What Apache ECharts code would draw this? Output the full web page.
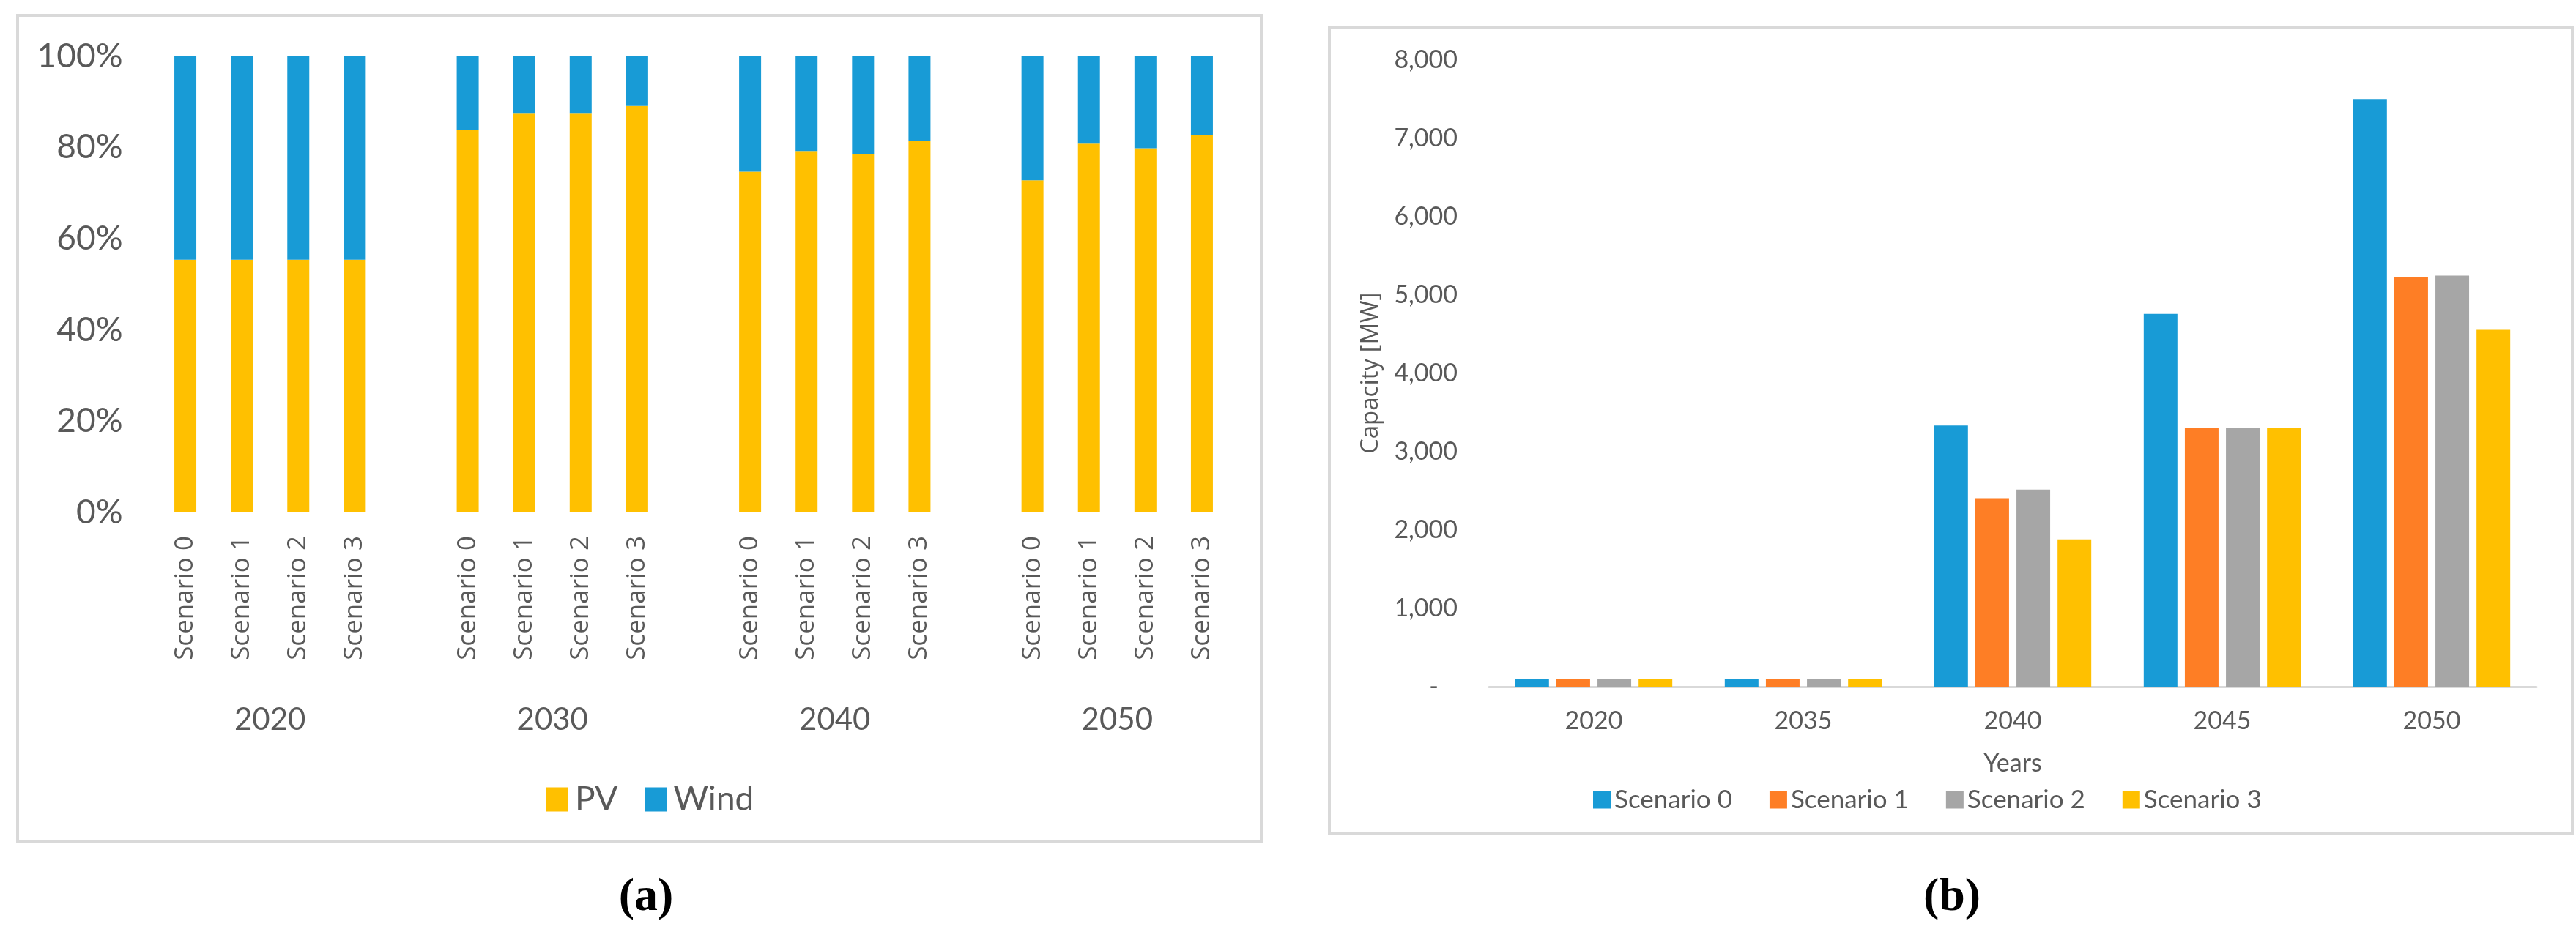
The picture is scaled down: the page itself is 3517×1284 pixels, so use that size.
<!DOCTYPE html>
<html>
<head>
<meta charset="utf-8">
<title>PV / Wind shares and capacity</title>
<script src="https://cdn.jsdelivr.net/npm/echarts@6/dist/echarts.min.js"></script>
<style>
  html, body { margin: 0; padding: 0; background: #fff; }
  #main { width: 3517px; height: 1284px; }
</style>
</head>
<body>
<div id="main"></div>
<script>
// ---- panel (a): share of PV / Wind per scenario ----
var years = ['2020', '2030', '2040', '2050'];
var scenarios = ['Scenario 0', 'Scenario 1', 'Scenario 2', 'Scenario 3'];
var pvShare = [55.4, 55.4, 55.4, 55.4, 83.9, 87.4, 87.4, 89.1, 74.7, 79.2, 78.6, 81.5, 72.8, 80.8, 79.8, 82.7];
var windShare = [44.6, 44.6, 44.6, 44.6, 16.1, 12.6, 12.6, 10.9, 25.3, 20.8, 21.4, 18.5, 27.2, 19.2, 20.2, 17.3];
var shareTicks = [0, 20, 40, 60, 80, 100];

// ---- panel (b): installed capacity [MW] ----
var capYears = ['2020', '2035', '2040', '2045', '2050'];
var cap0 = [100, 100, 3333, 4758, 7500];
var cap1 = [100, 100, 2405, 3305, 5230];
var cap2 = [100, 100, 2515, 3305, 5245];
var cap3 = [100, 100, 1880, 3305, 4555];

var grey = '#595959';
var colPV = '#FFC000', colWind = '#189BD6';
var scenColors = ['#189BD6', '#FE7E25', '#A6A6A6', '#FFC000'];

// category slots for (a): four scenarios per year, one empty slot between years
var slotCats = [], pvData = [], windData = [];
years.forEach(function (y, g) {
    scenarios.forEach(function (s, k) {
        slotCats.push(y + '|' + s);
        pvData.push(pvShare[g * 4 + k]);
        windData.push(windShare[g * 4 + k]);
    });
    if (g < years.length - 1) {
        slotCats.push('gap' + g);
        pvData.push('-');
        windData.push('-');
    }
});
// year labels sit under the middle of each group (boundaryGap false axis, 20 points)
var yearTicks = [];
for (var i = 0; i <= slotCats.length; i++) {
    yearTicks.push((i - 2) % 5 === 0 ? years[(i - 2) / 5] : '');
}

var myChart = echarts.init(document.getElementById('main'));
var option = {
    backgroundColor: '#fff',
    animation: false,
    textStyle: { fontFamily: 'Lato', color: grey },
    graphic: [
        { type: 'rect', shape: { x: 24, y: 21, width: 1698, height: 1129 },
          style: { fill: null, stroke: '#D9D9D9', lineWidth: 4 } },
        { type: 'rect', shape: { x: 1815, y: 37, width: 1697, height: 1101 },
          style: { fill: null, stroke: '#D9D9D9', lineWidth: 4 } },
        { type: 'text', x: 882, y: 1226,
          style: { text: '(a)', font: 'bold 64px "Liberation Serif"', fill: '#000', align: 'center', verticalAlign: 'middle' } },
        { type: 'text', x: 2665, y: 1226,
          style: { text: '(b)', font: 'bold 64px "Liberation Serif"', fill: '#000', align: 'center', verticalAlign: 'middle' } }
    ],
    legend: [
        {
            data: ['PV', 'Wind'],
            left: 746, top: 1069,
            icon: 'rect', itemWidth: 30, itemHeight: 33, itemGap: 37, padding: 0,
            textStyle: { fontSize: 46, color: grey, fontFamily: 'Lato', padding: [0, 0, 0, 4] }
        },
        {
            data: scenarios,
            left: 2175, top: 1075,
            icon: 'rect', itemWidth: 24, itemHeight: 24, itemGap: 51, padding: 0,
            textStyle: { fontSize: 35, color: grey, fontFamily: 'Lato' }
        }
    ],
    grid: [
        { left: 214.5, width: 1465, top: 76.7, height: 623.3 },
        { left: 2033, right: 54, top: 81.7, bottom: 346 }
    ],
    xAxis: [
        {
            type: 'category', gridIndex: 0, data: slotCats,
            axisLine: { show: false }, axisTick: { show: false },
            axisLabel: {
                interval: 0, rotate: 90, margin: 32, fontSize: 35, color: grey, fontFamily: 'Open Sans',
                formatter: function (v) { return v.indexOf('|') > 0 ? v.split('|')[1] : ''; }
            }
        },
        {
            type: 'category', gridIndex: 0, data: yearTicks, boundaryGap: false, position: 'bottom',
            axisLine: { show: false }, axisTick: { show: false },
            axisLabel: {
                interval: 0, margin: 262, fontSize: 42, color: grey,
                formatter: function (v, idx) { return yearTicks[idx]; }
            }
        },
        {
            type: 'category', gridIndex: 1, data: capYears,
            name: 'Years', nameLocation: 'middle', nameGap: 88,
            nameTextStyle: { fontSize: 34, color: grey },
            axisLine: { lineStyle: { color: '#D9D9D9', width: 3 } },
            axisTick: { show: false },
            axisLabel: { margin: 30, fontSize: 34, color: grey }
        }
    ],
    yAxis: [
        {
            type: 'value', gridIndex: 0, min: shareTicks[0], max: shareTicks[shareTicks.length - 1], interval: 20,
            splitLine: { show: false }, axisLine: { show: false }, axisTick: { show: false },
            axisLabel: { margin: 47, fontSize: 46, color: grey, formatter: '{value}%' }
        },
        {
            type: 'value', gridIndex: 1, min: 0, max: 8000, interval: 1000,
            name: 'Capacity [MW]', nameLocation: 'middle', nameGap: 145,
            nameTextStyle: { fontSize: 33, color: grey, fontFamily: 'Open Sans' },
            splitLine: { show: false }, axisLine: { show: false }, axisTick: { show: false },
            axisLabel: {
                margin: 43, fontSize: 34, color: grey,
                formatter: function (v) { return v === 0 ? '-   ' : v.toLocaleString('en-US'); }
            }
        }
    ],
    series: [
        { name: 'PV', type: 'bar', stack: 'share', xAxisIndex: 0, yAxisIndex: 0, data: pvData,
          barWidth: 30, itemStyle: { color: colPV } },
        { name: 'Wind', type: 'bar', stack: 'share', xAxisIndex: 0, yAxisIndex: 0, data: windData,
          barWidth: 30, itemStyle: { color: colWind } },
        { name: scenarios[0], type: 'bar', xAxisIndex: 2, yAxisIndex: 1, data: cap0,
          barWidth: 46, barGap: '22%', itemStyle: { color: scenColors[0] } },
        { name: scenarios[1], type: 'bar', xAxisIndex: 2, yAxisIndex: 1, data: cap1,
          barWidth: 46, barGap: '22%', itemStyle: { color: scenColors[1] } },
        { name: scenarios[2], type: 'bar', xAxisIndex: 2, yAxisIndex: 1, data: cap2,
          barWidth: 46, barGap: '22%', itemStyle: { color: scenColors[2] } },
        { name: scenarios[3], type: 'bar', xAxisIndex: 2, yAxisIndex: 1, data: cap3,
          barWidth: 46, barGap: '22%', itemStyle: { color: scenColors[3] } }
    ]
};
myChart.setOption(option, true);
</script>
</body>
</html>
